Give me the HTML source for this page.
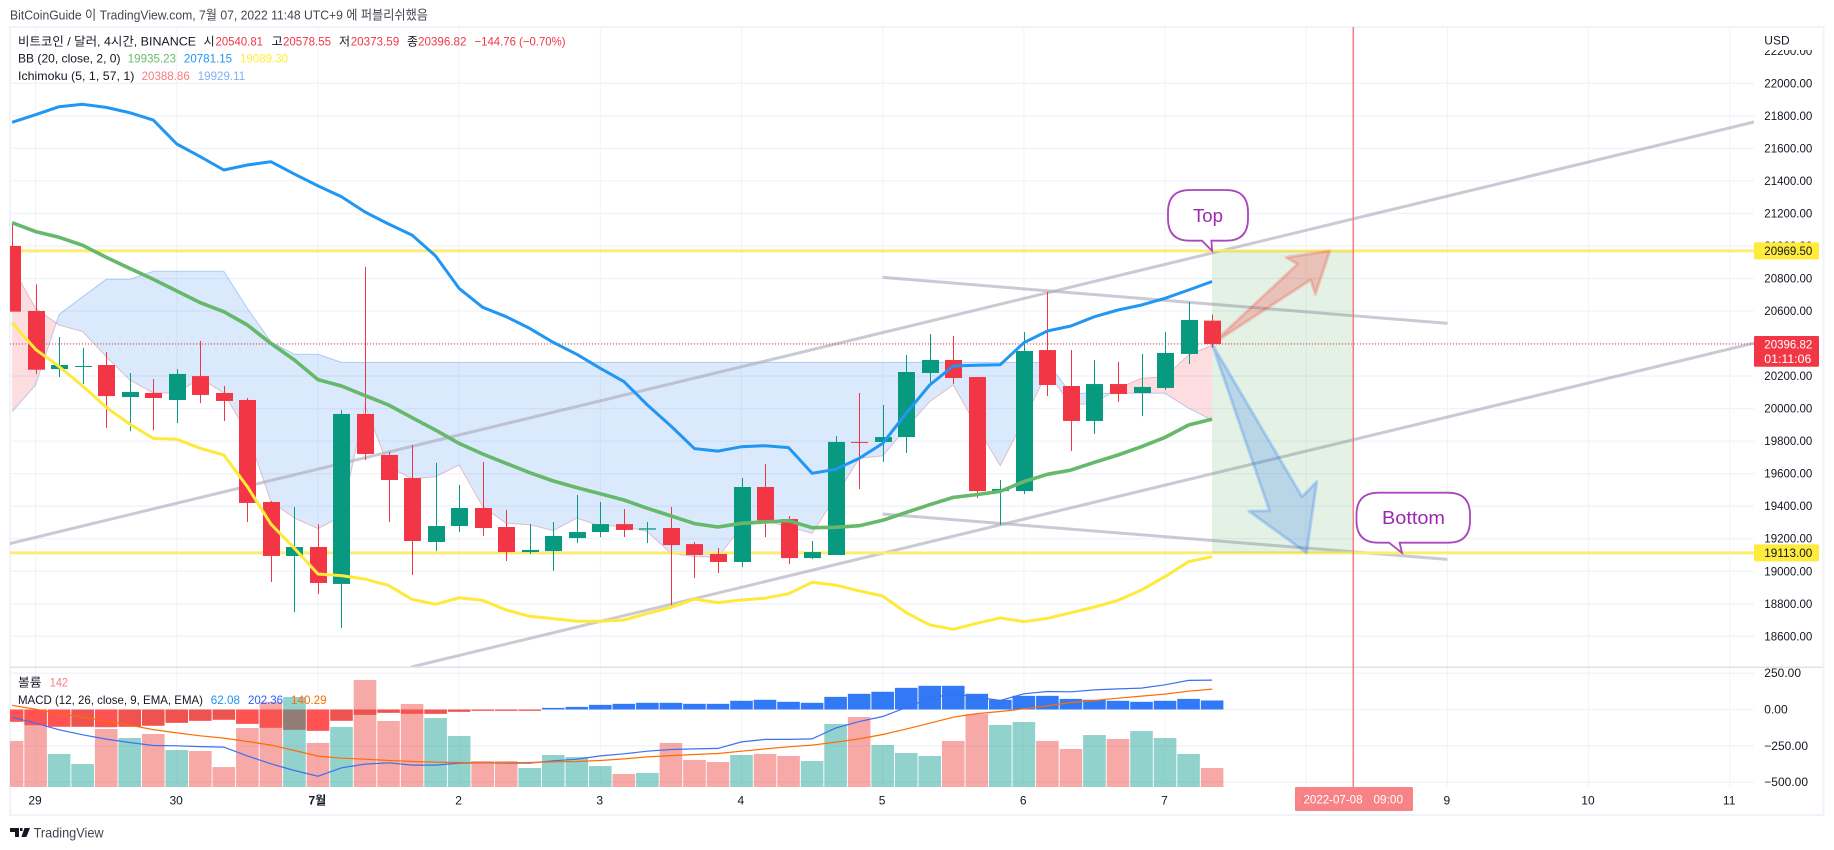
<!DOCTYPE html>
<html lang="ko">
<head>
<meta charset="utf-8">
<title>BTC/USD 4H chart</title>
<style>
html,body{margin:0;padding:0;background:#fff;width:1834px;height:850px;overflow:hidden}
svg{display:block}
text{font-family:"Liberation Sans","Noto Sans CJK KR",sans-serif;font-size:12px;dominant-baseline:central;fill:#131722}
</style>
</head>
<body>
<svg id="chart" width="1834" height="850" viewBox="0 0 1834 850" xmlns="http://www.w3.org/2000/svg">
  <defs>
    <clipPath id="clipMain"><rect x="10" y="27" width="1744" height="640"/></clipPath>
    <clipPath id="clipLower"><rect x="10" y="668" width="1744" height="119"/></clipPath>
    <clipPath id="clipAxis"><rect x="1754" y="50" width="70" height="617"/></clipPath>
  </defs>
  <rect x="10" y="27" width="1813.5" height="788" fill="#fff" stroke="#f0f3fa" stroke-width="2"/>
  <text x="10" y="15" textLength="418" lengthAdjust="spacingAndGlyphs" fill="#434651" style="fill:#434651;font-size:13px">BitCoinGuide 이 TradingView.com, 7월 07, 2022 11:48 UTC+9 에 퍼블리쉬했음</text>
  <g id="grid"></g>
  <g id="mainPane" clip-path="url(#clipMain)">
    <g id="cloud"></g>
    <g id="draw"></g>
    <g id="candles"></g>
    <g id="bb"></g>
    <g id="arrows"></g>
  </g>
  <line x1="10" x2="1823" y1="667.3" y2="667.3" stroke="#e0e3eb" stroke-width="1.5"/>
  <g id="lowerPane" clip-path="url(#clipLower)"></g>
  <g id="axes"></g>
  <g id="overlay"></g>

  <g>
    <text x="18" y="41.7" textLength="178" lengthAdjust="spacingAndGlyphs">비트코인 / 달러, 4시간, BINANCE</text>
    <text x="203.6" y="41.7">시</text>
    <text x="215.5" y="41.7" textLength="47.5" lengthAdjust="spacingAndGlyphs" style="fill:#f23645">20540.81</text>
    <text x="271.6" y="41.7">고</text>
    <text x="283" y="41.7" textLength="48" lengthAdjust="spacingAndGlyphs" style="fill:#f23645">20578.55</text>
    <text x="339" y="41.7">저</text>
    <text x="350.7" y="41.7" textLength="48.5" lengthAdjust="spacingAndGlyphs" style="fill:#f23645">20373.59</text>
    <text x="407" y="41.7">종</text>
    <text x="418" y="41.7" textLength="48.5" lengthAdjust="spacingAndGlyphs" style="fill:#f23645">20396.82</text>
    <text x="474.5" y="41.7" textLength="91" lengthAdjust="spacingAndGlyphs" style="fill:#f23645">−144.76 (−0.70%)</text>
    <text x="18" y="58.7" textLength="102.5" lengthAdjust="spacingAndGlyphs">BB (20, close, 2, 0)</text>
    <text x="127.7" y="58.7" textLength="48.3" lengthAdjust="spacingAndGlyphs" style="fill:#66bb6a">19935.23</text>
    <text x="183.9" y="58.7" textLength="48.2" lengthAdjust="spacingAndGlyphs" style="fill:#2196f3">20781.15</text>
    <text x="240" y="58.7" textLength="48" lengthAdjust="spacingAndGlyphs" style="fill:#ffeb3b">19089.30</text>
    <text x="18" y="76" textLength="116.4" lengthAdjust="spacingAndGlyphs">Ichimoku (5, 1, 57, 1)</text>
    <text x="141.6" y="76" textLength="48.2" lengthAdjust="spacingAndGlyphs" style="fill:#f77c80">20388.86</text>
    <text x="197.7" y="76" textLength="47.5" lengthAdjust="spacingAndGlyphs" style="fill:#82b1f8">19929.11</text>
  </g>
  <g>
    <text x="18" y="682.7" textLength="23.5" lengthAdjust="spacingAndGlyphs">볼륨</text>
    <text x="49.8" y="682.7" textLength="18.2" lengthAdjust="spacingAndGlyphs" style="fill:#f77c80">142</text>
    <text x="18" y="700" textLength="185" lengthAdjust="spacingAndGlyphs">MACD (12, 26, close, 9, EMA, EMA)</text>
    <text x="210.8" y="700" textLength="29.2" lengthAdjust="spacingAndGlyphs" style="fill:#2196f3">62.08</text>
    <text x="248" y="700" textLength="35" lengthAdjust="spacingAndGlyphs" style="fill:#2962ff">202.36</text>
    <text x="291" y="700" textLength="35.6" lengthAdjust="spacingAndGlyphs" style="fill:#ff6d00">140.29</text>
  </g>
  <g>
    <path d="M10 828h9v9h-4v-5h-5zM20 828h2.5v3h-2.5zM24.5 828h5.5l-3.6 9h-5z" fill="#131722"/>
    <text x="33.6" y="832.7" textLength="70" lengthAdjust="spacingAndGlyphs" style="fill:#434651;font-size:14px">TradingView</text>
  </g>
</svg>
<script>
// ---------- chart data ----------
const dayTickLabels = ['29','30','7월','2','3','4','5','6','7','8','9','10','11'];
const dayTickBars = [1,7,13,19,25,31,37,43,49,55,61,67,73];
const priceTicks = [22200,22000,21800,21600,21400,21200,21000,20800,20600,20400,20200,20000,19800,19600,19400,19200,19000,18800,18600];
const macdTicks = [250,0,-250,-500];
const macdTickLabels = ['250.00','0.00','−250.00','−500.00'];

const open = [21000,20600,20243,20258,20268,20071,20096,20053,20200,20096,20053,19426,19094,19149,18922,19967,19715,19573,19180,19278,19389,19272,19118,19124,19204,19241,19290,19256,19266,19167,19106,19057,19518,19321,19081,19100,19795,19795,19825,20219,20299,20194,19493,19493,20360,20139,19924,20151,20096,20127,20336,20540.81];
const high = [21139,20764,20440,20373,20348,20219,20182,20243,20416,20139,20065,19432,19395,19290,19991,20873,19733,19776,19666,19530,19672,19377,19290,19303,19469,19426,19383,19303,19395,19180,19143,19573,19659,19340,19186,19831,20096,20022,20330,20459,20446,20194,19561,20471,20717,20360,20299,20287,20336,20471,20655,20578.55];
const low = [20596,20213,20194,20151,19881,19862,19868,19911,20034,19924,19303,18934,18749,18860,18651,19684,19303,18977,19124,19241,19217,19063,19106,19002,19174,19210,19210,19174,18792,18958,18989,19026,19210,19044,19075,19100,19506,19672,19727,20151,20151,19450,19284,19475,20077,19739,19844,20041,19954,20114,20274,20373.59];
const close = [20596,20239,20268,20262,20077,20102,20065,20213,20084,20047,19420,19094,19149,18928,19967,19721,19561,19186,19278,19389,19266,19118,19131,19217,19241,19290,19254,19264,19161,19100,19057,19518,19313,19081,19118,19795,19790,19825,20225,20299,20188,19493,19506,20354,20145,19924,20151,20090,20133,20342,20545,20396.82];

const bbUpper = [21760,21807,21856,21871,21852,21819,21774,21627,21549,21467,21498,21518,21442,21369,21303,21209,21135,21067,20938,20739,20623,20565,20493,20407,20334,20248,20166,20022,19893,19754,19739,19766,19772,19760,19602,19627,19694,19786,19971,20145,20262,20266,20270,20405,20477,20508,20565,20606,20637,20678,20729,20781.15];
const bbBasis = [21143,21088,21053,21004,20930,20862,20795,20723,20651,20596,20514,20401,20299,20178,20139,20080,20022,19944,19868,19786,19721,19663,19606,19555,19514,19477,19438,19387,19340,19293,19272,19295,19303,19311,19268,19270,19280,19313,19362,19409,19454,19471,19491,19551,19596,19622,19670,19715,19766,19823,19899,19935.23];
const bbLower = [20528,20364,20258,20139,20008,19905,19817,19811,19756,19715,19520,19290,19141,18983,18973,18952,18913,18827,18797,18837,18821,18762,18723,18709,18692,18692,18700,18741,18778,18829,18807,18823,18834,18862,18932,18915,18879,18848,18745,18670,18643,18680,18713,18690,18710,18745,18780,18821,18885,18967,19059,19089.30];

const spanA = [20872,20616,20514,20473,20319,20176,20096,20096,20186,20096,19848,19428,19327,19262,19336,20016,19643,19567,19582,19653,19397,19295,19286,19250,19327,19278,19278,19243,19110,19090,19086,19274,19307,19274,19233,19459,19694,19709,19879,20043,20145,19889,19649,19930,20227,20022,20032,20125,20186,20196,20330,20388.86];
const spanB = [19981,20145,20580,20688,20795,20795,20844,20844,20844,20844,20616,20411,20334,20334,20284,20284,20284,20284,20284,20284,20284,20284,20284,20284,20284,20284,20284,20284,20284,20284,20284,20284,20284,20284,20284,20284,20284,20284,20284,20284,20284,20284,20284,20284,20284,20094,20094,20094,20094,20094,20002,19929.11];

const volume = [344,458,247,172,433,366,396,276,269,149,441,637,672,329,448,799,493,620,515,381,194,194,142,239,224,157,97,105,329,202,187,239,247,232,194,471,523,314,254,232,344,545,463,486,344,284,388,359,418,366,247,142];
const macdHist = [-85,-110,-119,-119,-122,-119,-112,-92,-78,-71,-99,-126,-140,-147,-78,-37,-23,-30,-30,-16,-9,-9,-9,11,18,32,39,46,46,39,39,60,67,53,46,87,108,122,149,163,163,108,67,94,94,73,67,60,53,60,73,62.08];
const macdLine = [-53,-94,-140,-174,-204,-227,-248,-250,-255,-259,-319,-374,-420,-459,-401,-376,-367,-383,-383,-369,-367,-369,-369,-353,-342,-319,-305,-287,-275,-271,-268,-223,-206,-206,-202,-128,-83,-48,14,78,108,85,62,108,124,122,135,142,147,170,200,202.36];
const macdSignal = [28,2,-28,-53,-80,-108,-138,-161,-181,-197,-220,-245,-282,-321,-335,-342,-351,-358,-362,-365,-367,-367,-365,-360,-358,-351,-340,-326,-317,-310,-303,-287,-271,-257,-245,-225,-202,-172,-135,-94,-53,-28,-14,5,25,48,62,78,92,106,126,140.29];

// drawings given as [bar, price] anchors
const channelUpper = [[-0.13,19169],[74.03,21762]];
const channelLower = [[16.95,18411],[74.03,20403]];
const wedgeUpper = [[37,20807],[61,20524]];
const wedgeLower = [[37,19352],[61,19073]];
const levelTop = 20969.5;
const levelBottom = 19113;
const lastPrice = 20396.82;
const boxBars = [51,57];
const arrowUp = [[51,20397],[54.63,20889],[54.14,20930],[56,20969.5],[55.39,20703],[55.19,20791]];
const arrowDown = [[51,20397],[54.82,19458],[55.45,19551],[55.01,19113],[52.57,19370],[53.44,19372]];

// ---------- axis functions ----------
const xOf = k => 12.07 + 23.53 * k;
const yOf = p => 83.3 + (22000 - p) * 0.16265;
const macdY = v => 709.5 - v * 0.1453;
const volY = v => 787 - v / 7.47;

const NS = 'http://www.w3.org/2000/svg';
function mk(tag, parent, attrs) {
  const el = document.createElementNS(NS, tag);
  for (const a in attrs) el.setAttribute(a, attrs[a]);
  parent.appendChild(el);
  return el;
}
const $ = id => document.getElementById(id);
const polyPts = (arr, yf) => arr.map((v, k) => xOf(k).toFixed(1) + ',' + yf(v).toFixed(1)).join(' ');
const anchorPts = arr => arr.map(p => xOf(p[0]).toFixed(1) + ',' + yOf(p[1]).toFixed(1)).join(' ');

// ---------- grid ----------
priceTicks.forEach(p => {
  if (p === 22200) return;
  const el = mk('line', $('grid'), {x1: 10, x2: 1754, y1: yOf(p), y2: yOf(p), stroke: '#f0f3fa', 'stroke-width': 1.3});
  
  
});
macdTicks.forEach(v => {
  const el = mk('line', $('grid'), {x1: 10, x2: 1754, y1: macdY(v), y2: macdY(v), stroke: '#f0f3fa', 'stroke-width': 1.3});
  
  
});
dayTickBars.forEach(k => {
  const el = mk('line', $('grid'), {x1: xOf(k), x2: xOf(k), y1: 27, y2: 787, stroke: '#f0f3fa', 'stroke-width': 1});
  
  
});

// ---------- ichimoku cloud ----------
(function () {
  let ra = [], rb = [];
  function flush(up) {
    if (ra.length < 2) return;
    const pts = ra.concat(rb.slice().reverse()).map(p => p.join(',')).join(' ');
    const el = mk('polygon', $('cloud'), {points: pts, fill: up ? 'rgba(242,54,69,0.17)' : 'rgba(33,120,235,0.16)'});
    
    
  }
  for (let k = 0; k < spanA.length; k++) {
    const xk = xOf(k), ya = yOf(spanA[k]), yb = yOf(spanB[k]);
    ra.push([xk, ya]);
    rb.push([xk, yb]);
    if (k + 1 < spanA.length) {
      const d1 = spanA[k] - spanB[k], d2 = spanA[k + 1] - spanB[k + 1];
      if (d1 * d2 < 0) {
        const t = d1 / (d1 - d2);
        const cx = xOf(k + t), cy = yOf(spanA[k] + (spanA[k + 1] - spanA[k]) * t);
        ra.push([cx, cy]);
        rb.push([cx, cy]);
        flush(d1 > 0);
        ra = [[cx, cy]];
        rb = [[cx, cy]];
      }
    }
  }
  flush(spanA[spanA.length - 1] > spanB[spanB.length - 1]);
  const l1 = mk('polyline', $('cloud'), {points: polyPts(spanA, yOf), fill: 'none', stroke: 'rgba(200,90,110,0.35)', 'stroke-width': 1});
  
  
  const l2 = mk('polyline', $('cloud'), {points: polyPts(spanB, yOf), fill: 'none', stroke: 'rgba(60,130,235,0.35)', 'stroke-width': 1});
  
  
})();

// ---------- drawings ----------
[channelUpper, channelLower, wedgeUpper, wedgeLower].forEach(line => {
  const el = mk('line', $('draw'), {x1: xOf(line[0][0]), y1: yOf(line[0][1]), x2: xOf(line[1][0]), y2: yOf(line[1][1]), stroke: 'rgba(170,170,185,0.62)', 'stroke-width': 3});
  
  
});
[levelTop, levelBottom].forEach(p => {
  const el = mk('line', $('draw'), {x1: 10, x2: 1754, y1: yOf(p), y2: yOf(p), stroke: '#fdec74', 'stroke-width': 3});
  
  
});
const box = mk('rect', $('draw'), {x: xOf(boxBars[0]), y: yOf(levelTop), width: xOf(boxBars[1]) - xOf(boxBars[0]), height: yOf(levelBottom) - yOf(levelTop), fill: 'rgba(76,160,80,0.15)'});


const lastLine = mk('line', $('draw'), {x1: 10, x2: 1754, y1: yOf(lastPrice), y2: yOf(lastPrice), stroke: '#f23645', 'stroke-width': 1, 'stroke-dasharray': '1 2'});



// ---------- candles ----------
open.forEach((o, k) => {
  const c = close[k], up = c >= o, col = up ? '#089981' : '#f23645';
  const cx = Math.round(xOf(k)) + 0.5;
  const w = mk('line', $('candles'), {x1: cx, x2: cx, y1: yOf(high[k]), y2: yOf(low[k]), stroke: col, 'stroke-width': 1});
  
  
  const top = yOf(Math.max(o, c)), bot = yOf(Math.min(o, c));
  const b = mk('rect', $('candles'), {x: cx - 8.5, y: top, width: 17, height: Math.max(1, bot - top), fill: col});
  
  
});

// ---------- bollinger ----------
const bbU = mk('polyline', $('bb'), {points: polyPts(bbUpper, yOf), fill: 'none', stroke: '#2196f3', 'stroke-width': 3, 'stroke-linejoin': 'round'});


const bbB = mk('polyline', $('bb'), {points: polyPts(bbBasis, yOf), fill: 'none', stroke: '#66b86a', 'stroke-width': 3.6, 'stroke-linejoin': 'round'});


const bbL = mk('polyline', $('bb'), {points: polyPts(bbLower, yOf), fill: 'none', stroke: '#ffe93b', 'stroke-width': 3, 'stroke-linejoin': 'round'});



// ---------- arrows ----------
const aUp = mk('polygon', $('arrows'), {points: anchorPts(arrowUp), fill: 'rgba(244,67,54,0.27)', stroke: 'rgba(244,67,54,0.24)', 'stroke-width': 3, 'stroke-linejoin': 'round'});


const aDown = mk('polygon', $('arrows'), {points: anchorPts(arrowDown), fill: 'rgba(33,120,243,0.22)', stroke: 'rgba(33,120,243,0.26)', 'stroke-width': 3, 'stroke-linejoin': 'round'});



// ---------- lower pane ----------
macdHist.forEach((v, k) => {
  const prev = k ? macdHist[k - 1] : 0;
  const col = v >= 0 ? '#3179f5' : (v < prev ? '#ff5252' : '#ef5350');
  const y0 = macdY(0), y1 = macdY(v);
  const el = mk('rect', $('lowerPane'), {x: xOf(k) - 11.3, y: Math.min(y0, y1), width: 22.6, height: Math.abs(y1 - y0), fill: col});
  
  
});
volume.forEach((v, k) => {
  const up = close[k] >= open[k];
  const el = mk('rect', $('lowerPane'), {x: xOf(k) - 11.3, y: volY(v), width: 22.6, height: 787 - volY(v), fill: up ? 'rgba(38,166,154,0.5)' : 'rgba(239,83,80,0.5)'});
  
  
});
const mL = mk('polyline', $('lowerPane'), {points: polyPts(macdLine, macdY), fill: 'none', stroke: '#3d6ff0', 'stroke-width': 1.2});


const mS = mk('polyline', $('lowerPane'), {points: polyPts(macdSignal, macdY), fill: 'none', stroke: '#ff6d00', 'stroke-width': 1.2});



// ---------- axes ----------
const usd = mk('text', $('axes'), {x: 1764.3, y: 40.5});


usd.textContent = 'USD';
const axisClip = mk('g', $('axes'), {'clip-path': 'url(#clipAxis)'});


priceTicks.forEach(p => {
  const t = mk('text', axisClip, {x: 1764.3, y: yOf(p), textLength: 48, lengthAdjust: 'spacingAndGlyphs'});
  
  
  t.textContent = p.toFixed(2);
});
macdTicks.forEach((v, i) => {
  const t = mk('text', $('axes'), {x: 1764.3, y: macdY(v)});
  
  
  t.textContent = macdTickLabels[i];
});
dayTickLabels.forEach((lab, i) => {
  const t = mk('text', $('axes'), {x: xOf(dayTickBars[i]) - 0.6, y: 800.7, 'text-anchor': 'middle', 'font-weight': lab === '7월' ? 'bold' : 'normal'});
  
  
  t.textContent = lab;
});

// ---------- overlay labels ----------
const ov = $('overlay');
const vline = mk('line', ov, {x1: xOf(boxBars[1]), x2: xOf(boxBars[1]), y1: 27, y2: 787, stroke: '#f77c80', 'stroke-width': 1.5});


const dateBox = mk('rect', ov, {x: xOf(boxBars[1]) - 58.3, y: 787, width: 118, height: 24, rx: 1, fill: 'rgba(247,124,128,0.95)'});


const d1 = mk('text', ov, {x: 1303.5, y: 799.5, textLength: 59, lengthAdjust: 'spacingAndGlyphs', style: 'fill:#fff'});


d1.textContent = '2022-07-08';
const d2 = mk('text', ov, {x: 1373.5, y: 799.5, textLength: 29.5, lengthAdjust: 'spacingAndGlyphs', style: 'fill:#fff'});


d2.textContent = '09:00';

[[levelTop, '20969.50'], [levelBottom, '19113.00']].forEach(a => {
  const y = yOf(a[0]);
  const r = mk('rect', ov, {x: 1754, y: y - 8.5, width: 65, height: 17, rx: 1, fill: '#ffeb3b'});
  
  
  const t = mk('text', ov, {x: 1764.3, y: y, textLength: 48, lengthAdjust: 'spacingAndGlyphs'});
  
  
  t.textContent = a[1];
});
const lastTag = mk('rect', ov, {x: 1754, y: yOf(lastPrice) - 8, width: 65, height: 30.7, rx: 1, fill: '#f23645'});


const lastText = mk('text', ov, {x: 1764.3, y: yOf(lastPrice) + 0.5, textLength: 48, lengthAdjust: 'spacingAndGlyphs', style: 'fill:#fff'});


lastText.textContent = '20396.82';
const cdText = mk('text', ov, {x: 1764.3, y: yOf(lastPrice) + 14.7, textLength: 47, lengthAdjust: 'spacingAndGlyphs', style: 'fill:#fff'});


cdText.textContent = '01:11:06';

// callouts: rounded body with pointer anchored to the bar/price of the tip
function callout(name, x0, x1, y0, y1, r, tb0, tb1, tipBar, tipPrice, label, tx, tw, fs) {
  const tipX = xOf(tipBar), tipY = yOf(tipPrice);
  const d = 'M' + (x0 + r) + ' ' + y0 + 'H' + (x1 - r) + 'Q' + x1 + ' ' + y0 + ' ' + x1 + ' ' + (y0 + r) +
    'V' + (y1 - r) + 'Q' + x1 + ' ' + y1 + ' ' + (x1 - r) + ' ' + y1 + 'H' + tb1 + 'L' + tipX + ' ' + tipY + 'L' + tb0 + ' ' + y1 +
    'H' + (x0 + r) + 'Q' + x0 + ' ' + y1 + ' ' + x0 + ' ' + (y1 - r) + 'V' + (y0 + r) + 'Q' + x0 + ' ' + y0 + ' ' + (x0 + r) + ' ' + y0 + 'Z';
  const p = mk('path', ov, {d: d, fill: '#fff', stroke: '#ab47bc', 'stroke-width': 1.8});
  
  
  const t = mk('text', ov, {x: tx, y: (y0 + y1) / 2 + 0.5, textLength: tw, lengthAdjust: 'spacingAndGlyphs', style: 'fill:#9c27b0;font-size:' + fs + 'px'});
  
  
  t.textContent = label;
}
callout('top', 1168, 1248, 190, 240.7, 22, 1202, 1211.4, 51, levelTop, 'Top', 1193, 30, 18);
callout('bottom', 1356.5, 1470, 492.7, 542.7, 22, 1389, 1399.6, 59.07, levelBottom, 'Bottom', 1382, 63, 18);
</script>
</body>
</html>
